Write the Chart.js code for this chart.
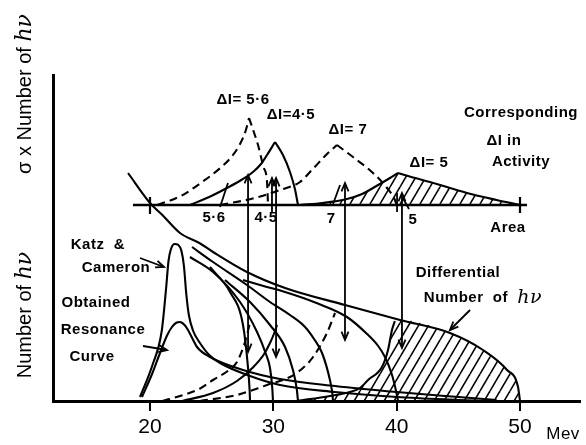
<!DOCTYPE html>
<html><head><meta charset="utf-8">
<script src="https://cdn.jsdelivr.net/npm/chart.js@4/dist/chart.umd.min.js"></script>
<style>html,body{margin:0;padding:0;background:#fff}canvas{display:block}</style>
</head><body>
<canvas id="c" width="586" height="445"></canvas>
<script>
// Energy axis (Mev)
const energyTicks = [20, 30, 40, 50];

// Upper panel: sigma x number of quanta, drawn above a baseline
const upperBase = 196;
const u56Rise = [[20.6,196],[22.5,205],[24.0,217],[25.7,233],[26.6,244],[27.3,257],[27.75,270],[28.03,283]];
const u56Fall = [[28.03,283],[28.5,266],[28.76,256],[29.2,234],[29.49,219],[29.57,196]];
const u45Rise = [[23.24,196],[24.8,204],[26.24,213],[27.4,221],[28.35,229],[29.0,237],[29.49,246],[30.14,259]];
const u45Fall = [[30.14,259],[30.78,246],[31.35,229],[31.75,212],[32.0,196]];
const u7Rise  = [[25.7,196],[28.5,203],[30.54,211],[32.16,219],[33.2,232],[34.35,247],[35.16,256]];
const u7Fall  = [[35.16,256],[36.46,244],[38.08,228],[39.22,213],[39.86,201],[40.0,196]];
const u5Rise  = [[32.16,196],[34.0,198],[35.97,202],[37.2,207],[38.08,213],[39.46,223],[40.11,228]];
const u5Fall  = [[40.11,228],[41.5,223],[42.7,219],[45.7,208],[48.1,201],[50,196]];

// Lower panel: bremsstrahlung spectra ending at 28, 30, 32, 35, 40, 50 Mev
const s50 = [[18.22,228],[20,198],[21.0,186],[22.43,168],[24.0,158],[25.11,149],[27.86,129],[30.95,113],[35.81,96],[40.27,81],[44.32,68],[47.0,51],[48.95,31],[49.84,14],[50,0]];
const s40 = [[27.54,121],[29.2,115],[30.95,109],[33.5,98],[35.97,84],[37.6,67],[38.5,55],[39.05,44],[39.6,27],[39.95,10],[40.11,0]];
const s35 = [[23.41,154],[25.11,139],[27.86,116],[29.73,99],[31.35,86],[32.57,74],[33.3,62],[33.95,48],[34.59,21],[34.78,8],[34.84,0]];
const s32 = [[26.08,121],[28.11,99],[29.73,76],[30.95,54],[31.59,31],[31.9,12],[32.0,0]];
const s30 = [[23.24,144],[25.11,129],[27.3,99],[28.68,69],[29.4,47],[29.73,33],[29.92,12],[29.97,0]];
const s28 = [[24.86,134],[26.49,109],[27.54,76],[27.95,33],[28.08,10],[28.11,0]];

// Resonance curves
const katzCameron = [[19.19,4],[20.2,36],[20.95,70],[21.3,112],[21.5,140],[21.7,152],[22.0,157],[22.3,156],[22.55,150],[22.75,135],[22.95,106],[23.15,86],[23.5,70],[24.05,58],[24.8,46],[25.68,38],[28.11,25],[30.54,16],[35,9],[40,4],[45,1],[47,0]];
const obtained = [[19.35,4],[20.2,28],[20.81,48],[21.4,66],[21.78,74],[22.1,78],[22.43,79],[22.8,76],[23.08,71],[23.5,61],[23.81,54],[24.86,44],[27.54,31],[30.54,22],[35,15],[40,9],[45,4],[48.1,1]];

// Products of cross-section and spectrum
const d28 = [[21.0,0],[22.43,5],[24.0,12],[25.11,21],[26.3,30],[27.05,39],[27.6,55],[27.86,66],[28.11,79]];
const d35 = [[24.05,0],[27.05,6],[29.49,16],[31.35,24],[32.4,33],[33.22,44],[34.35,68],[35.0,88]];
const p30 = [[22.6,0],[25.11,8],[27.05,20],[28.3,33],[29.2,46],[29.73,58],[30.14,70],[30.3,76]];
const p50 = [[31.92,0],[34.59,5],[36.22,9],[37.03,13],[37.68,21],[38.81,34],[39.3,51],[39.62,71],[39.85,80]];

// Double arrows linking product peaks to the upper panel: [energy, lower y, upper y]
const links = [[27.95,49,226],[30.22,44,223],[35.81,61,218],[40.43,53,208]];

const P = a => a.map(([x, y]) => ({x, y}));
const ctx0 = document.getElementById('c').getContext('2d');

function hatch() {
  const w = 10, h = 17, t = document.createElement('canvas');
  t.width = w; t.height = h;
  const g = t.getContext('2d');
  g.strokeStyle = '#000'; g.lineWidth = 1.6;
  for (const o of [-w, 0, w]) { g.beginPath(); g.moveTo(o, h); g.lineTo(o + w, 0); g.stroke(); }
  return ctx0.createPattern(t, 'repeat');
}
const hatchFill = hatch();

function curve(pts, opt = {}) {
  return Object.assign({data: P(pts), borderColor: '#000', borderWidth: 2.1, pointRadius: 0,
    fill: false, cubicInterpolationMode: 'monotone'}, opt);
}
function straight(pts, opt = {}) {
  return curve(pts, Object.assign({cubicInterpolationMode: 'default', tension: 0, borderWidth: 1.8}, opt));
}
const dash = {borderDash: [8, 5]};

const datasets = [
  // shaded areas
  curve(u5Rise.concat(u5Fall.slice(1)), {borderWidth: 0, fill: {value: upperBase}, backgroundColor: hatchFill}),
  curve(p50.concat(s50.filter(p => p[0] > 39.9)), {borderWidth: 0, fill: 'origin', backgroundColor: hatchFill}),
  // upper panel
  straight([[18.62,upperBase],[50.57,upperBase]], {borderWidth: 2.5}),
  straight([[20,187],[20,204]], {borderWidth: 2.2}),
  straight([[50,188],[50,204]], {borderWidth: 2.2}),
  curve(u56Rise, dash), curve(u56Fall, dash),
  curve(u45Rise), curve(u45Fall),
  curve(u7Rise, dash), curve(u7Fall, dash),
  curve(u5Rise), curve(u5Fall),
  // lower panel
  curve(s50), curve(s40), curve(s35), curve(s32), curve(s30), curve(s28),
  curve(katzCameron), curve(obtained),
  curve(d28, dash), curve(d35, dash), curve(p30), curve(p50),
  // pointers
  straight([[25.68,194],[26.32,218]]),
  straight([[34.84,197],[35.41,216]]),
  straight([[41.0,192],[40.5,203]]),
  straight([[40.03,189],[40.03,208]]),
  straight([[29.89,188],[29.89,223]], {heads: ['end']}),
  straight([[19.19,143],[21.14,134]], {heads: ['end']}),
  straight([[19.43,55],[21.38,51]], {heads: ['end']}),
  straight([[45.95,91],[44.32,71]], {heads: ['end']}),
  ...links.map(([x, lo, hi]) => straight([[x, lo], [x, hi]], {heads: ['start', 'end']}))
];

const B = 'bold 15px "Liberation Sans", Arial, sans-serif';
const S = 'italic 19px "DejaVu Serif", serif';
const notes = [
  {x:27.54, y:301, parts:[['ΔI= 5·6',B]]},
  {x:31.43, y:286, parts:[['ΔI=4·5',B]]},
  {x:36.05, y:271, parts:[['ΔI= 7',B]]},
  {x:42.62, y:238, parts:[['ΔI= 5',B]]},
  {x:50.08, y:288, parts:[['Corresponding',B]]},
  {x:48.70, y:260, parts:[['ΔI in',B]]},
  {x:50.08, y:239, parts:[['Activity',B]]},
  {x:49.03, y:173, parts:[['Area',B]]},
  {x:25.19, y:183, parts:[['5·6',B]]},
  {x:29.41, y:183, parts:[['4·5',B]]},
  {x:34.68, y:182, parts:[['7',B]]},
  {x:41.32, y:181, parts:[['5',B]]},
  {x:15.78, y:156, parts:[['Katz  &',B]]},
  {x:17.24, y:133, parts:[['Cameron',B]]},
  {x:15.62, y:98,  parts:[['Obtained',B]]},
  {x:16.19, y:71,  parts:[['Resonance',B]]},
  {x:15.30, y:44,  parts:[['Curve',B]]},
  {x:44.97, y:128, parts:[['Differential',B]]},
  {x:47.0,  y:103, parts:[['Number  of  ',B],['hν',S]]},
  {x:53.49, y:-33, parts:[['Mev','17px "Liberation Sans", Arial, sans-serif']]}
];
const A = '20px "Liberation Sans", Arial, sans-serif';
const SA = 'italic 22px "DejaVu Serif", serif';
const axisTitles = [
  {y:307, parts:[['σ x Number of ',A],['hν',SA]]},
  {y:86,  parts:[['Number of ',A],['hν',SA]]}
];

function drawParts(ctx, parts, cx, cy, rot) {
  ctx.save();
  ctx.translate(cx, cy); ctx.rotate(rot);
  ctx.fillStyle = '#000'; ctx.textBaseline = 'middle'; ctx.textAlign = 'left';
  let total = 0;
  for (const [t, f] of parts) { ctx.font = f; total += ctx.measureText(t).width; }
  let x = -total / 2;
  for (const [t, f] of parts) { ctx.font = f; ctx.fillText(t, x, 0); x += ctx.measureText(t).width; }
  ctx.restore();
}

const decor = {
  id: 'decor',
  afterDatasetsDraw(chart) {
    const ctx = chart.ctx;
    chart.data.datasets.forEach((ds, i) => {
      if (!ds.heads) return;
      const pts = chart.getDatasetMeta(i).data;
      const head = (tip, from) => {
        const a = Math.atan2(tip.y - from.y, tip.x - from.x), L = 9, s = 0.4;
        ctx.beginPath();
        ctx.moveTo(tip.x - L * Math.cos(a - s), tip.y - L * Math.sin(a - s));
        ctx.lineTo(tip.x, tip.y);
        ctx.lineTo(tip.x - L * Math.cos(a + s), tip.y - L * Math.sin(a + s));
        ctx.stroke();
      };
      ctx.save(); ctx.strokeStyle = '#000'; ctx.lineWidth = 1.8;
      if (ds.heads.includes('start')) head(pts[0], pts[1]);
      if (ds.heads.includes('end')) head(pts[pts.length - 1], pts[pts.length - 2]);
      ctx.restore();
    });
  },
  afterDraw(chart) {
    const ctx = chart.ctx, xs = chart.scales.x, ys = chart.scales.y;
    ctx.save();
    ctx.letterSpacing = '0.5px';
    for (const n of notes) drawParts(ctx, n.parts, xs.getPixelForValue(n.x), ys.getPixelForValue(n.y), 0);
    ctx.letterSpacing = '0px';
    for (const t of axisTitles) drawParts(ctx, t.parts, chart.chartArea.left - 28, ys.getPixelForValue(t.y), -Math.PI / 2);
    ctx.restore();
  }
};

new Chart(ctx0, {
  type: 'line',
  data: {datasets},
  options: {
    responsive: false, animation: false, devicePixelRatio: 1,
    layout: {padding: {left: 53, right: 6, top: 75, bottom: 6}},
    plugins: {legend: {display: false}, tooltip: {enabled: false}},
    elements: {point: {radius: 0}},
    scales: {
      x: {
        type: 'linear', min: 12.135, max: 54.865,
        afterBuildTicks: s => { s.ticks = energyTicks.map(v => ({value: v})); },
        afterFit: s => { s.height = 38; },
        grid: {display: true, drawOnChartArea: false, drawTicks: true, tickLength: 10, color: '#000', lineWidth: 2},
        border: {display: true, color: '#000', width: 3},
        ticks: {color: '#000', font: {family: '"Liberation Sans", Arial, sans-serif', size: 21}, padding: 4, maxRotation: 0, autoSkip: false}
      },
      y: {
        min: 0, max: 326,
        afterFit: s => { s.width = 0; },
        grid: {display: false, drawTicks: false},
        border: {display: true, color: '#000', width: 3},
        ticks: {display: false}
      }
    }
  },
  plugins: [decor]
});
</script>
</body></html>
